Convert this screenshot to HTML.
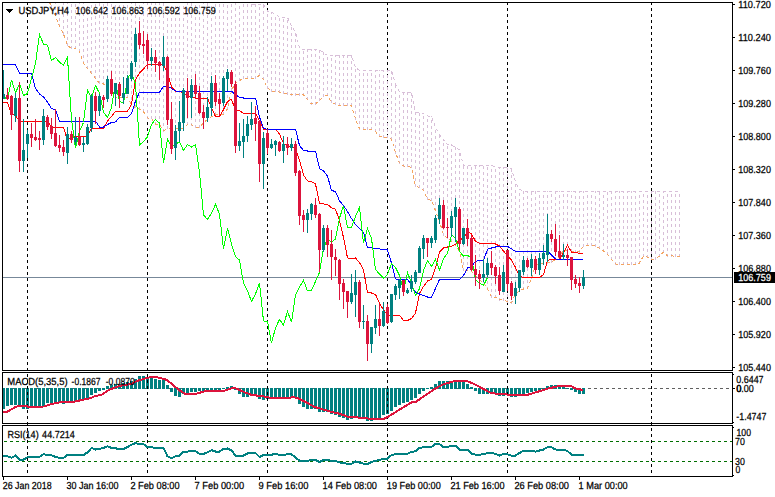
<!DOCTYPE html>
<html><head><meta charset="utf-8"><title>USDJPY,H4</title>
<style>html,body{margin:0;padding:0;background:#fff;overflow:hidden}svg{display:block}</style></head>
<body>
<svg width="775" height="497" viewBox="0 0 775 497" font-family="'Liberation Sans', sans-serif" text-rendering="geometricPrecision">
<rect width="775" height="497" fill="#fff"/>
<defs><clipPath id="cm"><rect x="3" y="3" width="729" height="367"/></clipPath><clipPath id="c2"><rect x="3" y="373" width="729" height="50"/></clipPath><clipPath id="c3"><rect x="3" y="426" width="729" height="50"/></clipPath></defs>
<g shape-rendering="crispEdges">
<line x1="27.5" y1="2" x2="27.5" y2="473" stroke="#000" stroke-width="1" stroke-dasharray="3 3"/>
<line x1="147.5" y1="2" x2="147.5" y2="473" stroke="#000" stroke-width="1" stroke-dasharray="3 3"/>
<line x1="267.5" y1="2" x2="267.5" y2="473" stroke="#000" stroke-width="1" stroke-dasharray="3 3"/>
<line x1="387.5" y1="2" x2="387.5" y2="473" stroke="#000" stroke-width="1" stroke-dasharray="3 3"/>
<line x1="507.5" y1="2" x2="507.5" y2="473" stroke="#000" stroke-width="1" stroke-dasharray="3 3"/>
<line x1="651.5" y1="2" x2="651.5" y2="473" stroke="#000" stroke-width="1" stroke-dasharray="3 3"/>
<g clip-path="url(#cm)">
<line x1="47.5" y1="-3" x2="47.5" y2="-10" stroke="#D8BFD8" stroke-dasharray="3 3"/>
<line x1="51.5" y1="8" x2="51.5" y2="-10" stroke="#D8BFD8" stroke-dasharray="3 3"/>
<line x1="55.5" y1="16" x2="55.5" y2="-10" stroke="#D8BFD8" stroke-dasharray="3 3"/>
<line x1="59.5" y1="27" x2="59.5" y2="-10" stroke="#D8BFD8" stroke-dasharray="3 3"/>
<line x1="63.5" y1="35" x2="63.5" y2="-10" stroke="#D8BFD8" stroke-dasharray="3 3"/>
<line x1="67.5" y1="46" x2="67.5" y2="-10" stroke="#D8BFD8" stroke-dasharray="3 3"/>
<line x1="71.5" y1="49" x2="71.5" y2="-10" stroke="#D8BFD8" stroke-dasharray="3 3"/>
<line x1="75.5" y1="49" x2="75.5" y2="-10" stroke="#D8BFD8" stroke-dasharray="3 3"/>
<line x1="79.5" y1="52" x2="79.5" y2="-10" stroke="#D8BFD8" stroke-dasharray="3 3"/>
<line x1="83.5" y1="64" x2="83.5" y2="-10" stroke="#D8BFD8" stroke-dasharray="3 3"/>
<line x1="87.5" y1="69" x2="87.5" y2="-10" stroke="#D8BFD8" stroke-dasharray="3 3"/>
<line x1="91.5" y1="74" x2="91.5" y2="-10" stroke="#D8BFD8" stroke-dasharray="3 3"/>
<line x1="95.5" y1="79" x2="95.5" y2="-10" stroke="#D8BFD8" stroke-dasharray="3 3"/>
<line x1="99.5" y1="84" x2="99.5" y2="-10" stroke="#D8BFD8" stroke-dasharray="3 3"/>
<line x1="103.5" y1="85" x2="103.5" y2="-10" stroke="#D8BFD8" stroke-dasharray="3 3"/>
<line x1="107.5" y1="90" x2="107.5" y2="-10" stroke="#D8BFD8" stroke-dasharray="3 3"/>
<line x1="111.5" y1="91" x2="111.5" y2="-10" stroke="#D8BFD8" stroke-dasharray="3 3"/>
<line x1="115.5" y1="98" x2="115.5" y2="-10" stroke="#D8BFD8" stroke-dasharray="3 3"/>
<line x1="119.5" y1="98" x2="119.5" y2="-10" stroke="#D8BFD8" stroke-dasharray="3 3"/>
<line x1="123.5" y1="98" x2="123.5" y2="-10" stroke="#D8BFD8" stroke-dasharray="3 3"/>
<line x1="127.5" y1="98" x2="127.5" y2="-10" stroke="#D8BFD8" stroke-dasharray="3 3"/>
<line x1="131.5" y1="106" x2="131.5" y2="-10" stroke="#D8BFD8" stroke-dasharray="3 3"/>
<line x1="135.5" y1="108" x2="135.5" y2="-10" stroke="#D8BFD8" stroke-dasharray="3 3"/>
<line x1="139.5" y1="110" x2="139.5" y2="-10" stroke="#D8BFD8" stroke-dasharray="3 3"/>
<line x1="143.5" y1="112" x2="143.5" y2="-10" stroke="#D8BFD8" stroke-dasharray="3 3"/>
<line x1="147.5" y1="119" x2="147.5" y2="-10" stroke="#D8BFD8" stroke-dasharray="3 3"/>
<line x1="151.5" y1="119" x2="151.5" y2="-10" stroke="#D8BFD8" stroke-dasharray="3 3"/>
<line x1="155.5" y1="125" x2="155.5" y2="-10" stroke="#D8BFD8" stroke-dasharray="3 3"/>
<line x1="159.5" y1="125" x2="159.5" y2="-10" stroke="#D8BFD8" stroke-dasharray="3 3"/>
<line x1="163.5" y1="132" x2="163.5" y2="-10" stroke="#D8BFD8" stroke-dasharray="3 3"/>
<line x1="167.5" y1="129" x2="167.5" y2="-10" stroke="#D8BFD8" stroke-dasharray="3 3"/>
<line x1="171.5" y1="129" x2="171.5" y2="-10" stroke="#D8BFD8" stroke-dasharray="3 3"/>
<line x1="175.5" y1="129" x2="175.5" y2="-10" stroke="#D8BFD8" stroke-dasharray="3 3"/>
<line x1="179.5" y1="129" x2="179.5" y2="-10" stroke="#D8BFD8" stroke-dasharray="3 3"/>
<line x1="183.5" y1="129" x2="183.5" y2="-10" stroke="#D8BFD8" stroke-dasharray="3 3"/>
<line x1="187.5" y1="125" x2="187.5" y2="-10" stroke="#D8BFD8" stroke-dasharray="3 3"/>
<line x1="191.5" y1="126" x2="191.5" y2="-10" stroke="#D8BFD8" stroke-dasharray="3 3"/>
<line x1="195.5" y1="128" x2="195.5" y2="-10" stroke="#D8BFD8" stroke-dasharray="3 3"/>
<line x1="199.5" y1="128" x2="199.5" y2="-10" stroke="#D8BFD8" stroke-dasharray="3 3"/>
<line x1="203.5" y1="124" x2="203.5" y2="-10" stroke="#D8BFD8" stroke-dasharray="3 3"/>
<line x1="207.5" y1="120" x2="207.5" y2="-10" stroke="#D8BFD8" stroke-dasharray="3 3"/>
<line x1="211.5" y1="117" x2="211.5" y2="-10" stroke="#D8BFD8" stroke-dasharray="3 3"/>
<line x1="215.5" y1="115" x2="215.5" y2="-10" stroke="#D8BFD8" stroke-dasharray="3 3"/>
<line x1="219.5" y1="115" x2="219.5" y2="-10" stroke="#D8BFD8" stroke-dasharray="3 3"/>
<line x1="223.5" y1="115" x2="223.5" y2="-10" stroke="#D8BFD8" stroke-dasharray="3 3"/>
<line x1="227.5" y1="110" x2="227.5" y2="-10" stroke="#D8BFD8" stroke-dasharray="3 3"/>
<line x1="231.5" y1="91" x2="231.5" y2="-10" stroke="#D8BFD8" stroke-dasharray="3 3"/>
<line x1="235.5" y1="83" x2="235.5" y2="-10" stroke="#D8BFD8" stroke-dasharray="3 3"/>
<line x1="239.5" y1="81" x2="239.5" y2="-10" stroke="#D8BFD8" stroke-dasharray="3 3"/>
<line x1="243.5" y1="79" x2="243.5" y2="-10" stroke="#D8BFD8" stroke-dasharray="3 3"/>
<line x1="247.5" y1="79" x2="247.5" y2="-10" stroke="#D8BFD8" stroke-dasharray="3 3"/>
<line x1="251.5" y1="79" x2="251.5" y2="4" stroke="#D8BFD8" stroke-dasharray="3 3"/>
<line x1="255.5" y1="79" x2="255.5" y2="4" stroke="#D8BFD8" stroke-dasharray="3 3"/>
<line x1="259.5" y1="76" x2="259.5" y2="4" stroke="#D8BFD8" stroke-dasharray="3 3"/>
<line x1="263.5" y1="80" x2="263.5" y2="4" stroke="#D8BFD8" stroke-dasharray="3 3"/>
<line x1="267.5" y1="89" x2="267.5" y2="11" stroke="#D8BFD8" stroke-dasharray="3 3"/>
<line x1="271.5" y1="92" x2="271.5" y2="12" stroke="#D8BFD8" stroke-dasharray="3 3"/>
<line x1="275.5" y1="92" x2="275.5" y2="14" stroke="#D8BFD8" stroke-dasharray="3 3"/>
<line x1="279.5" y1="93" x2="279.5" y2="17" stroke="#D8BFD8" stroke-dasharray="3 3"/>
<line x1="283.5" y1="94" x2="283.5" y2="17" stroke="#D8BFD8" stroke-dasharray="3 3"/>
<line x1="287.5" y1="95" x2="287.5" y2="17" stroke="#D8BFD8" stroke-dasharray="3 3"/>
<line x1="291.5" y1="96" x2="291.5" y2="26" stroke="#D8BFD8" stroke-dasharray="3 3"/>
<line x1="295.5" y1="96" x2="295.5" y2="31" stroke="#D8BFD8" stroke-dasharray="3 3"/>
<line x1="299.5" y1="96" x2="299.5" y2="48" stroke="#D8BFD8" stroke-dasharray="3 3"/>
<line x1="303.5" y1="96" x2="303.5" y2="49" stroke="#D8BFD8" stroke-dasharray="3 3"/>
<line x1="307.5" y1="100" x2="307.5" y2="49" stroke="#D8BFD8" stroke-dasharray="3 3"/>
<line x1="311.5" y1="105" x2="311.5" y2="49" stroke="#D8BFD8" stroke-dasharray="3 3"/>
<line x1="315.5" y1="105" x2="315.5" y2="49" stroke="#D8BFD8" stroke-dasharray="3 3"/>
<line x1="319.5" y1="101" x2="319.5" y2="49" stroke="#D8BFD8" stroke-dasharray="3 3"/>
<line x1="323.5" y1="97" x2="323.5" y2="52" stroke="#D8BFD8" stroke-dasharray="3 3"/>
<line x1="327.5" y1="96" x2="327.5" y2="55" stroke="#D8BFD8" stroke-dasharray="3 3"/>
<line x1="331.5" y1="103" x2="331.5" y2="55" stroke="#D8BFD8" stroke-dasharray="3 3"/>
<line x1="335.5" y1="105" x2="335.5" y2="55" stroke="#D8BFD8" stroke-dasharray="3 3"/>
<line x1="339.5" y1="106" x2="339.5" y2="55" stroke="#D8BFD8" stroke-dasharray="3 3"/>
<line x1="343.5" y1="106" x2="343.5" y2="55" stroke="#D8BFD8" stroke-dasharray="3 3"/>
<line x1="347.5" y1="106" x2="347.5" y2="55" stroke="#D8BFD8" stroke-dasharray="3 3"/>
<line x1="351.5" y1="106" x2="351.5" y2="55" stroke="#D8BFD8" stroke-dasharray="3 3"/>
<line x1="355.5" y1="120" x2="355.5" y2="67" stroke="#D8BFD8" stroke-dasharray="3 3"/>
<line x1="359.5" y1="130" x2="359.5" y2="70" stroke="#D8BFD8" stroke-dasharray="3 3"/>
<line x1="363.5" y1="130" x2="363.5" y2="70" stroke="#D8BFD8" stroke-dasharray="3 3"/>
<line x1="367.5" y1="130" x2="367.5" y2="70" stroke="#D8BFD8" stroke-dasharray="3 3"/>
<line x1="371.5" y1="130" x2="371.5" y2="70" stroke="#D8BFD8" stroke-dasharray="3 3"/>
<line x1="375.5" y1="132" x2="375.5" y2="70" stroke="#D8BFD8" stroke-dasharray="3 3"/>
<line x1="379.5" y1="137" x2="379.5" y2="70" stroke="#D8BFD8" stroke-dasharray="3 3"/>
<line x1="383.5" y1="138" x2="383.5" y2="70" stroke="#D8BFD8" stroke-dasharray="3 3"/>
<line x1="387.5" y1="138" x2="387.5" y2="70" stroke="#D8BFD8" stroke-dasharray="3 3"/>
<line x1="391.5" y1="140" x2="391.5" y2="70" stroke="#D8BFD8" stroke-dasharray="3 3"/>
<line x1="395.5" y1="154" x2="395.5" y2="84" stroke="#D8BFD8" stroke-dasharray="3 3"/>
<line x1="399.5" y1="164" x2="399.5" y2="91" stroke="#D8BFD8" stroke-dasharray="3 3"/>
<line x1="403.5" y1="167" x2="403.5" y2="92" stroke="#D8BFD8" stroke-dasharray="3 3"/>
<line x1="407.5" y1="167" x2="407.5" y2="92" stroke="#D8BFD8" stroke-dasharray="3 3"/>
<line x1="411.5" y1="168" x2="411.5" y2="92" stroke="#D8BFD8" stroke-dasharray="3 3"/>
<line x1="415.5" y1="187" x2="415.5" y2="112" stroke="#D8BFD8" stroke-dasharray="3 3"/>
<line x1="419.5" y1="188" x2="419.5" y2="112" stroke="#D8BFD8" stroke-dasharray="3 3"/>
<line x1="423.5" y1="191" x2="423.5" y2="113" stroke="#D8BFD8" stroke-dasharray="3 3"/>
<line x1="427.5" y1="200" x2="427.5" y2="116" stroke="#D8BFD8" stroke-dasharray="3 3"/>
<line x1="431.5" y1="201" x2="431.5" y2="116" stroke="#D8BFD8" stroke-dasharray="3 3"/>
<line x1="435.5" y1="211" x2="435.5" y2="127" stroke="#D8BFD8" stroke-dasharray="3 3"/>
<line x1="439.5" y1="222" x2="439.5" y2="134" stroke="#D8BFD8" stroke-dasharray="3 3"/>
<line x1="443.5" y1="236" x2="443.5" y2="139" stroke="#D8BFD8" stroke-dasharray="3 3"/>
<line x1="447.5" y1="239" x2="447.5" y2="144" stroke="#D8BFD8" stroke-dasharray="3 3"/>
<line x1="451.5" y1="242" x2="451.5" y2="144" stroke="#D8BFD8" stroke-dasharray="3 3"/>
<line x1="455.5" y1="246" x2="455.5" y2="147" stroke="#D8BFD8" stroke-dasharray="3 3"/>
<line x1="459.5" y1="252" x2="459.5" y2="149" stroke="#D8BFD8" stroke-dasharray="3 3"/>
<line x1="463.5" y1="271" x2="463.5" y2="165" stroke="#D8BFD8" stroke-dasharray="3 3"/>
<line x1="467.5" y1="271" x2="467.5" y2="165" stroke="#D8BFD8" stroke-dasharray="3 3"/>
<line x1="471.5" y1="272" x2="471.5" y2="165" stroke="#D8BFD8" stroke-dasharray="3 3"/>
<line x1="475.5" y1="277" x2="475.5" y2="165" stroke="#D8BFD8" stroke-dasharray="3 3"/>
<line x1="479.5" y1="281" x2="479.5" y2="165" stroke="#D8BFD8" stroke-dasharray="3 3"/>
<line x1="483.5" y1="283" x2="483.5" y2="165" stroke="#D8BFD8" stroke-dasharray="3 3"/>
<line x1="487.5" y1="290" x2="487.5" y2="165" stroke="#D8BFD8" stroke-dasharray="3 3"/>
<line x1="491.5" y1="298" x2="491.5" y2="165" stroke="#D8BFD8" stroke-dasharray="3 3"/>
<line x1="495.5" y1="298" x2="495.5" y2="166" stroke="#D8BFD8" stroke-dasharray="3 3"/>
<line x1="499.5" y1="301" x2="499.5" y2="167" stroke="#D8BFD8" stroke-dasharray="3 3"/>
<line x1="503.5" y1="301" x2="503.5" y2="167" stroke="#D8BFD8" stroke-dasharray="3 3"/>
<line x1="507.5" y1="303" x2="507.5" y2="167" stroke="#D8BFD8" stroke-dasharray="3 3"/>
<line x1="511.5" y1="304" x2="511.5" y2="168" stroke="#D8BFD8" stroke-dasharray="3 3"/>
<line x1="515.5" y1="295" x2="515.5" y2="182" stroke="#D8BFD8" stroke-dasharray="3 3"/>
<line x1="519.5" y1="292" x2="519.5" y2="189" stroke="#D8BFD8" stroke-dasharray="3 3"/>
<line x1="523.5" y1="290" x2="523.5" y2="191" stroke="#D8BFD8" stroke-dasharray="3 3"/>
<line x1="527.5" y1="289" x2="527.5" y2="191" stroke="#D8BFD8" stroke-dasharray="3 3"/>
<line x1="531.5" y1="279" x2="531.5" y2="191" stroke="#D8BFD8" stroke-dasharray="3 3"/>
<line x1="535.5" y1="266" x2="535.5" y2="191" stroke="#D8BFD8" stroke-dasharray="3 3"/>
<line x1="539.5" y1="264" x2="539.5" y2="191" stroke="#D8BFD8" stroke-dasharray="3 3"/>
<line x1="543.5" y1="264" x2="543.5" y2="191" stroke="#D8BFD8" stroke-dasharray="3 3"/>
<line x1="547.5" y1="264" x2="547.5" y2="191" stroke="#D8BFD8" stroke-dasharray="3 3"/>
<line x1="551.5" y1="263" x2="551.5" y2="191" stroke="#D8BFD8" stroke-dasharray="3 3"/>
<line x1="555.5" y1="260" x2="555.5" y2="191" stroke="#D8BFD8" stroke-dasharray="3 3"/>
<line x1="559.5" y1="258" x2="559.5" y2="191" stroke="#D8BFD8" stroke-dasharray="3 3"/>
<line x1="563.5" y1="251" x2="563.5" y2="191" stroke="#D8BFD8" stroke-dasharray="3 3"/>
<line x1="567.5" y1="251" x2="567.5" y2="191" stroke="#D8BFD8" stroke-dasharray="3 3"/>
<line x1="571.5" y1="252" x2="571.5" y2="191" stroke="#D8BFD8" stroke-dasharray="3 3"/>
<line x1="575.5" y1="253" x2="575.5" y2="191" stroke="#D8BFD8" stroke-dasharray="3 3"/>
<line x1="579.5" y1="253" x2="579.5" y2="191" stroke="#D8BFD8" stroke-dasharray="3 3"/>
<line x1="583.5" y1="247" x2="583.5" y2="191" stroke="#D8BFD8" stroke-dasharray="3 3"/>
<line x1="587.5" y1="246" x2="587.5" y2="191" stroke="#D8BFD8" stroke-dasharray="3 3"/>
<line x1="591.5" y1="246" x2="591.5" y2="191" stroke="#D8BFD8" stroke-dasharray="3 3"/>
<line x1="595.5" y1="247" x2="595.5" y2="191" stroke="#D8BFD8" stroke-dasharray="3 3"/>
<line x1="599.5" y1="249" x2="599.5" y2="191" stroke="#D8BFD8" stroke-dasharray="3 3"/>
<line x1="603.5" y1="252" x2="603.5" y2="191" stroke="#D8BFD8" stroke-dasharray="3 3"/>
<line x1="607.5" y1="255" x2="607.5" y2="191" stroke="#D8BFD8" stroke-dasharray="3 3"/>
<line x1="611.5" y1="260" x2="611.5" y2="191" stroke="#D8BFD8" stroke-dasharray="3 3"/>
<line x1="615.5" y1="265" x2="615.5" y2="191" stroke="#D8BFD8" stroke-dasharray="3 3"/>
<line x1="619.5" y1="265" x2="619.5" y2="191" stroke="#D8BFD8" stroke-dasharray="3 3"/>
<line x1="623.5" y1="265" x2="623.5" y2="191" stroke="#D8BFD8" stroke-dasharray="3 3"/>
<line x1="627.5" y1="265" x2="627.5" y2="191" stroke="#D8BFD8" stroke-dasharray="3 3"/>
<line x1="631.5" y1="265" x2="631.5" y2="191" stroke="#D8BFD8" stroke-dasharray="3 3"/>
<line x1="635.5" y1="265" x2="635.5" y2="191" stroke="#D8BFD8" stroke-dasharray="3 3"/>
<line x1="639.5" y1="264" x2="639.5" y2="191" stroke="#D8BFD8" stroke-dasharray="3 3"/>
<line x1="643.5" y1="257" x2="643.5" y2="191" stroke="#D8BFD8" stroke-dasharray="3 3"/>
<line x1="647.5" y1="258" x2="647.5" y2="191" stroke="#D8BFD8" stroke-dasharray="3 3"/>
<line x1="651.5" y1="260" x2="651.5" y2="191" stroke="#D8BFD8" stroke-dasharray="3 3"/>
<line x1="655.5" y1="260" x2="655.5" y2="191" stroke="#D8BFD8" stroke-dasharray="3 3"/>
<line x1="659.5" y1="257" x2="659.5" y2="191" stroke="#D8BFD8" stroke-dasharray="3 3"/>
<line x1="663.5" y1="253" x2="663.5" y2="191" stroke="#D8BFD8" stroke-dasharray="3 3"/>
<line x1="667.5" y1="257" x2="667.5" y2="191" stroke="#D8BFD8" stroke-dasharray="3 3"/>
<line x1="671.5" y1="257" x2="671.5" y2="191" stroke="#D8BFD8" stroke-dasharray="3 3"/>
<line x1="675.5" y1="257" x2="675.5" y2="191" stroke="#D8BFD8" stroke-dasharray="3 3"/>
<line x1="679.5" y1="257" x2="679.5" y2="191" stroke="#D8BFD8" stroke-dasharray="3 3"/>
<polyline fill="none" stroke="#D8BFD8" stroke-width="1" stroke-dasharray="3 3" points="251.5,4.5 255.5,4.5 259.5,4.5 263.5,4.5 267.5,11 271.5,12.3 275.5,14.2 279.5,17.4 283.5,17.4 287.5,17.4 291.5,26.5 295.5,31.6 299.5,48.4 303.5,49.7 307.5,49.7 311.5,49.7 315.5,49.7 319.5,49.7 323.5,52.9 327.5,55.5 331.5,55.5 335.5,55.5 339.5,55.5 343.5,55.5 347.5,55.5 351.5,55.5 355.5,67.5 359.5,70.6 363.5,70.6 367.5,70.6 371.5,70.6 375.5,70.6 379.5,70.6 383.5,70.6 387.5,70.6 391.5,70.6 395.5,84.5 399.5,91.6 403.5,92.4 407.5,92.4 411.5,92.4 415.5,112.1 419.5,112.1 423.5,113.5 427.5,116 431.5,116.3 435.5,127.6 439.5,134.7 443.5,139.8 447.5,144.3 451.5,144.7 455.5,147.9 459.5,149.5 463.5,165.6 467.5,165.6 471.5,165.6 475.5,165.6 479.5,165.6 483.5,165.6 487.5,165.6 491.5,165.6 495.5,166.5 499.5,167.5 503.5,167.5 507.5,167.5 511.5,168.5 515.5,182 519.5,189.2 523.5,191.4 527.5,191.4 531.5,191.4 535.5,191.4 539.5,191.4 543.5,191.4 547.5,191.4 551.5,191.4 555.5,191.4 559.5,191.4 563.5,191.4 567.5,191.4 571.5,191.4 575.5,191.4 579.5,191.4 583.5,191.4 587.5,191.4 591.5,191.4 595.5,191.4 599.5,191.4 603.5,191.4 607.5,191.4 611.5,191.4 615.5,191.4 619.5,191.4 623.5,191.4 627.5,191.4 631.5,191.4 635.5,191.4 639.5,191.4 643.5,191.4 647.5,191.4 651.5,191.4 655.5,191.4 659.5,191.4 663.5,191.4 667.5,191.4 671.5,191.4 675.5,191.4 679.5,191.4"/>
<polyline fill="none" stroke="#F4A460" stroke-width="1" stroke-dasharray="3 3" points="47.5,-3.4 51.5,7.5 55.5,15.5 59.5,26.5 63.5,34 67.5,45.5 71.5,48.4 75.5,48.4 79.5,51.5 83.5,63 87.5,68.5 91.5,73.5 95.5,78.5 99.5,83.4 103.5,83.8 107.5,89 111.5,90.2 115.5,97 119.5,97.2 123.5,97.2 127.5,97.2 131.5,104.9 135.5,107.7 139.5,109.2 143.5,111.7 147.5,118 151.5,118.6 155.5,124.2 159.5,124.2 163.5,130.8 167.5,128.7 171.5,128.7 175.5,128.7 179.5,128.7 183.5,128.7 187.5,124.7 191.5,124.8 195.5,127.7 199.5,127.7 203.5,122.8 207.5,119.5 211.5,116.6 215.5,114.3 219.5,114.3 223.5,114.3 227.5,109 231.5,90.5 235.5,82.7 239.5,80.7 243.5,78.3 247.5,78.3 251.5,78.3 255.5,78.3 259.5,75.3 263.5,79.6 267.5,87.8 271.5,91 275.5,91.4 279.5,92.2 283.5,93.3 287.5,94.2 291.5,94.8 295.5,94.8 299.5,94.8 303.5,94.8 307.5,99.7 311.5,103.9 315.5,104 319.5,100.4 323.5,96.4 327.5,95.3 331.5,102.4 335.5,104 339.5,105.7 343.5,105.7 347.5,105.7 351.5,105.7 355.5,118.9 359.5,128.8 363.5,129.2 367.5,129.2 371.5,129.2 375.5,131.6 379.5,136.3 383.5,137.6 387.5,137.6 391.5,139.1 395.5,152.8 399.5,162.8 403.5,166 407.5,166.2 411.5,167.5 415.5,186 419.5,187.5 423.5,190.2 427.5,199.2 431.5,200.3 435.5,210.7 439.5,221.5 443.5,234.8 447.5,238.3 451.5,241.2 455.5,245.7 459.5,251.2 463.5,270 467.5,270.5 471.5,271.5 475.5,276 479.5,279.8 483.5,282.5 487.5,289.2 491.5,297.2 495.5,297.4 499.5,299.9 503.5,299.9 507.5,301.8 511.5,302.8 515.5,293.8 519.5,291 523.5,289 527.5,288.1 531.5,278.2 535.5,265.7 539.5,263.7 543.5,263.2 547.5,262.9 551.5,261.9 555.5,259.7 559.5,256.8 563.5,249.8 567.5,250.5 571.5,251.2 575.5,251.9 579.5,251.8 583.5,246.2 587.5,245.6 591.5,245.5 595.5,246 599.5,248.5 603.5,250.9 607.5,254.4 611.5,259.4 615.5,264 619.5,264.4 623.5,264.4 627.5,264.4 631.5,264.4 635.5,264.4 639.5,263 643.5,255.8 647.5,257.2 651.5,259.2 655.5,259.4 659.5,255.9 663.5,252.2 667.5,255.8 671.5,255.8 675.5,256.4 679.5,256.4"/>
<rect x="3" y="277" width="729" height="1" fill="#778899"/>
<polyline fill="none" stroke="#FF0000" stroke-width="1"  points="3,102.3 3.5,102.3 7.5,103 11.5,113.5 15.5,115.8 19.5,121 23.5,121.3 27.5,121.3 31.5,121.3 35.5,121.3 39.5,121.3 43.5,121.3 47.5,121.3 51.5,127.4 55.5,127.4 59.5,127.4 63.5,127.4 67.5,140.5 71.5,136.3 75.5,136.3 79.5,136.3 83.5,136.3 87.5,136.3 91.5,128.4 95.5,128.5 99.5,128.4 103.5,128.4 107.5,121 111.5,116.5 115.5,111.2 119.5,111.2 123.5,111.2 127.5,111.2 131.5,104.5 135.5,80 139.5,73 143.5,69 147.5,64.4 151.5,64.4 155.5,64.4 159.5,64.4 163.5,64.4 167.5,73 171.5,87 175.5,91 179.5,91.6 183.5,93 187.5,95.3 191.5,97 195.5,98.2 199.5,98.2 203.5,98.2 207.5,98.2 211.5,108 215.5,116.5 219.5,116.8 223.5,109.5 227.5,101.5 231.5,99.4 235.5,110.3 239.5,110.6 243.5,113.3 247.5,113.3 251.5,113.3 255.5,113.3 259.5,120.8 263.5,129.2 267.5,129.2 271.5,129.2 275.5,129.2 279.5,134 283.5,143.5 287.5,146 291.5,146 295.5,149 299.5,160 303.5,175 307.5,181 311.5,181.5 315.5,184 319.5,203.5 323.5,204 327.5,204.4 331.5,207.9 335.5,209.2 339.5,220.5 343.5,237.5 347.5,258 351.5,258.2 355.5,258 359.5,262.5 363.5,270 367.5,292.5 371.5,293 375.5,294.5 379.5,303 383.5,310 387.5,315 391.5,315.5 395.5,315.5 399.5,315.5 403.5,320.3 407.5,320.5 411.5,318.5 415.5,313 419.5,293.5 423.5,286.5 427.5,281 431.5,279.2 435.5,268 439.5,252 443.5,248 447.5,247 451.5,246.3 455.5,244.5 459.5,240 463.5,238 467.5,231.5 471.5,234 475.5,241.3 479.5,243.2 483.5,243.2 487.5,243.2 491.5,243.2 495.5,244 499.5,246 503.5,251 507.5,255.5 511.5,260 515.5,267.5 519.5,276.5 523.5,277.3 527.5,277.3 531.5,277.3 535.5,277.3 539.5,277.3 543.5,274.5 547.5,260.5 551.5,259.4 555.5,259.4 559.5,259.4 563.5,252.5 567.5,245 571.5,252.2 575.5,252.2 579.5,253.3 583,253.3"/>
<polyline fill="none" stroke="#0000FF" stroke-width="1"  points="3,64.6 3.5,64.6 7.5,64.6 11.5,64.6 15.5,64.6 19.5,73 23.5,73 27.5,73 31.5,73 35.5,88.5 39.5,94 43.5,97 47.5,102 51.5,108.5 55.5,109.7 59.5,121 63.5,121 67.5,121 71.5,121 75.5,121 79.5,121 83.5,121 87.5,121 91.5,121 95.5,121 99.5,127 103.5,127 107.5,124.5 111.5,122.5 115.5,122 119.5,117.5 123.5,117.5 127.5,117.5 131.5,113.5 135.5,101 139.5,92.3 143.5,92.3 147.5,92.3 151.5,92.3 155.5,92.3 159.5,92.3 163.5,86.2 167.5,86.2 171.5,88.5 175.5,91 179.5,91.3 183.5,91.3 187.5,91.3 191.5,91.3 195.5,91.3 199.5,91.3 203.5,91.3 207.5,91.3 211.5,91.3 215.5,91.3 219.5,91.3 223.5,91.3 227.5,91.3 231.5,91.3 235.5,94.5 239.5,97.5 243.5,98 247.5,98 251.5,98 255.5,98 259.5,117 263.5,128.5 267.5,129.2 271.5,129.2 275.5,129.2 279.5,129.2 283.5,129.2 287.5,129.2 291.5,129.2 295.5,129.2 299.5,145.5 303.5,150.5 307.5,151 311.5,151 315.5,151 319.5,168.5 323.5,171 327.5,176 331.5,190.5 335.5,191.5 339.5,200.8 343.5,205.5 347.5,211.5 351.5,218.5 355.5,224.5 359.5,228.8 363.5,232.5 367.5,247.5 371.5,248 375.5,248.5 379.5,249 383.5,249.5 387.5,250 391.5,263 395.5,279 399.5,279.4 403.5,279.4 407.5,279.4 411.5,285 415.5,292.5 419.5,294 423.5,295.5 427.5,297 431.5,297 435.5,288.5 439.5,279.4 443.5,279.4 447.5,279.4 451.5,279.4 455.5,279.4 459.5,279.4 463.5,275.5 467.5,268 471.5,267 475.5,261.2 479.5,260.6 483.5,260.4 487.5,249.3 491.5,248 495.5,247 499.5,246 503.5,246 507.5,246.3 511.5,248.9 515.5,251.4 519.5,251.5 523.5,251.5 527.5,251.5 531.5,251.5 535.5,251.5 539.5,251.5 543.5,251.5 547.5,251.2 551.5,255 555.5,259 559.5,259.4 563.5,259.4 567.5,259.4 571.5,259.4 575.5,259.4 579.5,259.4 583,259.4"/>
<polyline fill="none" stroke="#00FF00" stroke-width="1"  points="3.5,96.5 7.5,99.5 11.5,79.7 15.5,93 19.5,83.7 23.5,95.6 27.5,93.4 31.5,78.1 35.5,63.5 39.5,34.4 43.5,44.1 47.5,45.1 51.5,60.4 55.5,57.5 59.5,62.2 63.5,65.1 67.5,57.5 71.5,119.5 75.5,148.2 79.5,131.5 83.5,122.5 87.5,90.5 91.5,98 95.5,85.6 99.5,93.3 103.5,112.4 107.5,117.5 111.5,107.5 115.5,83.5 119.5,101 123.5,103.4 127.5,78.5 131.5,72.4 135.5,84 139.5,145 143.5,141.5 147.5,136.9 151.5,124.6 155.5,119.4 159.5,123.1 163.5,163.2 167.5,138.7 171.5,147.1 175.5,144.5 179.5,141.7 183.5,150.6 187.5,144.5 191.5,147.1 195.5,144.5 199.5,172.2 203.5,215.1 207.5,219.3 211.5,213.5 215.5,204.3 219.5,214.1 223.5,249.1 227.5,228.4 231.5,244.2 235.5,256.8 239.5,260 243.5,283.2 247.5,291 251.5,301.4 255.5,293.9 259.5,282.7 263.5,321 267.5,321.4 271.5,343.3 275.5,327.8 279.5,319.5 283.5,325.1 287.5,311.5 291.5,322.3 295.5,295 299.5,287 303.5,280.4 307.5,291 311.5,290.5 315.5,281.5 319.5,272.5 323.5,248.5 327.5,238.5 331.5,242.4 335.5,238.9 339.5,218.2 343.5,205.7 347.5,228 351.5,227.5 355.5,216.3 359.5,207.3 363.5,243 367.5,228.5 371.5,238.5 375.5,269.5 379.5,274.2 383.5,278.2 387.5,274.5 391.5,263.5 395.5,267.5 399.5,275.5 403.5,290.3 407.5,272.5 411.5,283.2 415.5,295.5 419.5,288.7 423.5,270.7 427.5,260.5 431.5,266.5 435.5,259.5 439.5,270 443.5,258.4 447.5,253.5 451.5,234.5 455.5,238.3 459.5,251.6 463.5,256.1 467.5,255.5 471.5,257.4 475.5,279.3 479.5,283.5 483.5,285.3 487.5,277.7"/>
<rect x="3" y="70" width="1" height="29" fill="#008080"/>
<rect x="2" y="94" width="3" height="5" fill="#008080"/>
<rect x="7" y="88" width="1" height="12" fill="#DC143C"/>
<rect x="6" y="95" width="3" height="4" fill="#DC143C"/>
<rect x="11" y="95" width="1" height="35" fill="#DC143C"/>
<rect x="10" y="96" width="3" height="19" fill="#DC143C"/>
<rect x="15" y="93" width="1" height="29" fill="#008080"/>
<rect x="14" y="98" width="3" height="18" fill="#008080"/>
<rect x="19" y="82" width="1" height="90" fill="#DC143C"/>
<rect x="18" y="98" width="3" height="63" fill="#DC143C"/>
<rect x="23" y="119" width="1" height="53" fill="#008080"/>
<rect x="22" y="150" width="3" height="11" fill="#008080"/>
<rect x="27" y="130" width="1" height="28" fill="#008080"/>
<rect x="26" y="134" width="3" height="10" fill="#008080"/>
<rect x="31" y="123" width="1" height="24" fill="#DC143C"/>
<rect x="30" y="134" width="3" height="4" fill="#DC143C"/>
<rect x="35" y="119" width="1" height="22" fill="#DC143C"/>
<rect x="34" y="137" width="3" height="3" fill="#DC143C"/>
<rect x="39" y="131" width="1" height="19" fill="#DC143C"/>
<rect x="38" y="138" width="3" height="2" fill="#DC143C"/>
<rect x="43" y="109" width="1" height="36" fill="#008080"/>
<rect x="42" y="116" width="3" height="24" fill="#008080"/>
<rect x="47" y="115" width="1" height="15" fill="#DC143C"/>
<rect x="46" y="117" width="3" height="10" fill="#DC143C"/>
<rect x="51" y="118" width="1" height="21" fill="#DC143C"/>
<rect x="50" y="126" width="3" height="8" fill="#DC143C"/>
<rect x="55" y="109" width="1" height="38" fill="#DC143C"/>
<rect x="54" y="133" width="3" height="13" fill="#DC143C"/>
<rect x="59" y="135" width="1" height="17" fill="#DC143C"/>
<rect x="58" y="145" width="3" height="3" fill="#DC143C"/>
<rect x="63" y="140" width="1" height="16" fill="#DC143C"/>
<rect x="62" y="147" width="3" height="5" fill="#DC143C"/>
<rect x="67" y="127" width="1" height="37" fill="#008080"/>
<rect x="66" y="134" width="3" height="19" fill="#008080"/>
<rect x="71" y="131" width="1" height="12" fill="#DC143C"/>
<rect x="70" y="134" width="3" height="6" fill="#DC143C"/>
<rect x="75" y="117" width="1" height="28" fill="#008080"/>
<rect x="74" y="137" width="3" height="5" fill="#008080"/>
<rect x="79" y="117" width="1" height="29" fill="#DC143C"/>
<rect x="78" y="136" width="3" height="9" fill="#DC143C"/>
<rect x="83" y="137" width="1" height="15" fill="#008080"/>
<rect x="82" y="143" width="3" height="2" fill="#008080"/>
<rect x="87" y="124" width="1" height="21" fill="#008080"/>
<rect x="86" y="127" width="3" height="17" fill="#008080"/>
<rect x="91" y="94" width="1" height="38" fill="#008080"/>
<rect x="90" y="96" width="3" height="32" fill="#008080"/>
<rect x="95" y="92" width="1" height="32" fill="#DC143C"/>
<rect x="94" y="96" width="3" height="15" fill="#DC143C"/>
<rect x="99" y="94" width="1" height="22" fill="#008080"/>
<rect x="98" y="96" width="3" height="15" fill="#008080"/>
<rect x="103" y="95" width="1" height="13" fill="#DC143C"/>
<rect x="102" y="97" width="3" height="3" fill="#DC143C"/>
<rect x="107" y="76" width="1" height="26" fill="#008080"/>
<rect x="106" y="79" width="3" height="20" fill="#008080"/>
<rect x="111" y="71" width="1" height="25" fill="#DC143C"/>
<rect x="110" y="79" width="3" height="15" fill="#DC143C"/>
<rect x="115" y="83" width="1" height="23" fill="#008080"/>
<rect x="114" y="83" width="3" height="11" fill="#008080"/>
<rect x="119" y="82" width="1" height="26" fill="#DC143C"/>
<rect x="118" y="84" width="3" height="12" fill="#DC143C"/>
<rect x="123" y="77" width="1" height="27" fill="#008080"/>
<rect x="122" y="93" width="3" height="5" fill="#008080"/>
<rect x="127" y="75" width="1" height="19" fill="#008080"/>
<rect x="126" y="78" width="3" height="16" fill="#008080"/>
<rect x="131" y="61" width="1" height="20" fill="#008080"/>
<rect x="130" y="63" width="3" height="16" fill="#008080"/>
<rect x="135" y="28" width="1" height="39" fill="#008080"/>
<rect x="134" y="34" width="3" height="28" fill="#008080"/>
<rect x="139" y="21" width="1" height="28" fill="#DC143C"/>
<rect x="138" y="33" width="3" height="12" fill="#DC143C"/>
<rect x="143" y="31" width="1" height="23" fill="#DC143C"/>
<rect x="142" y="44" width="3" height="2" fill="#DC143C"/>
<rect x="147" y="34" width="1" height="35" fill="#DC143C"/>
<rect x="146" y="40" width="3" height="21" fill="#DC143C"/>
<rect x="151" y="48" width="1" height="18" fill="#008080"/>
<rect x="150" y="57" width="3" height="4" fill="#008080"/>
<rect x="155" y="50" width="1" height="22" fill="#DC143C"/>
<rect x="154" y="57" width="3" height="6" fill="#DC143C"/>
<rect x="159" y="61" width="1" height="19" fill="#DC143C"/>
<rect x="158" y="62" width="3" height="4" fill="#DC143C"/>
<rect x="163" y="36" width="1" height="35" fill="#008080"/>
<rect x="162" y="57" width="3" height="9" fill="#008080"/>
<rect x="167" y="56" width="1" height="69" fill="#DC143C"/>
<rect x="166" y="57" width="3" height="63" fill="#DC143C"/>
<rect x="171" y="102" width="1" height="52" fill="#DC143C"/>
<rect x="170" y="119" width="3" height="30" fill="#DC143C"/>
<rect x="175" y="125" width="1" height="35" fill="#008080"/>
<rect x="174" y="131" width="3" height="17" fill="#008080"/>
<rect x="179" y="101" width="1" height="41" fill="#008080"/>
<rect x="178" y="122" width="3" height="9" fill="#008080"/>
<rect x="183" y="88" width="1" height="43" fill="#008080"/>
<rect x="182" y="90" width="3" height="33" fill="#008080"/>
<rect x="187" y="78" width="1" height="40" fill="#DC143C"/>
<rect x="186" y="91" width="3" height="7" fill="#DC143C"/>
<rect x="191" y="79" width="1" height="39" fill="#008080"/>
<rect x="190" y="85" width="3" height="13" fill="#008080"/>
<rect x="195" y="74" width="1" height="25" fill="#DC143C"/>
<rect x="194" y="85" width="3" height="9" fill="#DC143C"/>
<rect x="199" y="86" width="1" height="28" fill="#DC143C"/>
<rect x="198" y="93" width="3" height="20" fill="#DC143C"/>
<rect x="203" y="105" width="1" height="24" fill="#DC143C"/>
<rect x="202" y="112" width="3" height="6" fill="#DC143C"/>
<rect x="207" y="97" width="1" height="25" fill="#008080"/>
<rect x="206" y="107" width="3" height="11" fill="#008080"/>
<rect x="211" y="76" width="1" height="40" fill="#008080"/>
<rect x="210" y="83" width="3" height="25" fill="#008080"/>
<rect x="215" y="75" width="1" height="31" fill="#DC143C"/>
<rect x="214" y="83" width="3" height="19" fill="#DC143C"/>
<rect x="219" y="93" width="1" height="23" fill="#DC143C"/>
<rect x="218" y="99" width="3" height="5" fill="#DC143C"/>
<rect x="223" y="76" width="1" height="30" fill="#008080"/>
<rect x="222" y="78" width="3" height="25" fill="#008080"/>
<rect x="227" y="69" width="1" height="22" fill="#008080"/>
<rect x="226" y="72" width="3" height="7" fill="#008080"/>
<rect x="231" y="70" width="1" height="17" fill="#DC143C"/>
<rect x="230" y="72" width="3" height="12" fill="#DC143C"/>
<rect x="235" y="81" width="1" height="72" fill="#DC143C"/>
<rect x="234" y="84" width="3" height="62" fill="#DC143C"/>
<rect x="239" y="123" width="1" height="28" fill="#008080"/>
<rect x="238" y="141" width="3" height="5" fill="#008080"/>
<rect x="243" y="119" width="1" height="39" fill="#008080"/>
<rect x="242" y="136" width="3" height="6" fill="#008080"/>
<rect x="247" y="116" width="1" height="26" fill="#008080"/>
<rect x="246" y="124" width="3" height="12" fill="#008080"/>
<rect x="251" y="102" width="1" height="28" fill="#008080"/>
<rect x="250" y="119" width="3" height="6" fill="#008080"/>
<rect x="255" y="106" width="1" height="35" fill="#DC143C"/>
<rect x="254" y="118" width="3" height="6" fill="#DC143C"/>
<rect x="259" y="120" width="1" height="62" fill="#DC143C"/>
<rect x="258" y="121" width="3" height="43" fill="#DC143C"/>
<rect x="263" y="132" width="1" height="57" fill="#008080"/>
<rect x="262" y="138" width="3" height="26" fill="#008080"/>
<rect x="267" y="129" width="1" height="25" fill="#DC143C"/>
<rect x="266" y="133" width="3" height="15" fill="#DC143C"/>
<rect x="271" y="139" width="1" height="10" fill="#008080"/>
<rect x="270" y="144" width="3" height="4" fill="#008080"/>
<rect x="275" y="140" width="1" height="16" fill="#008080"/>
<rect x="274" y="141" width="3" height="4" fill="#008080"/>
<rect x="279" y="141" width="1" height="11" fill="#DC143C"/>
<rect x="278" y="142" width="3" height="9" fill="#DC143C"/>
<rect x="283" y="136" width="1" height="27" fill="#008080"/>
<rect x="282" y="144" width="3" height="7" fill="#008080"/>
<rect x="287" y="137" width="1" height="18" fill="#DC143C"/>
<rect x="286" y="144" width="3" height="4" fill="#DC143C"/>
<rect x="291" y="138" width="1" height="13" fill="#008080"/>
<rect x="290" y="144" width="3" height="4" fill="#008080"/>
<rect x="295" y="141" width="1" height="35" fill="#DC143C"/>
<rect x="294" y="144" width="3" height="29" fill="#DC143C"/>
<rect x="299" y="170" width="1" height="55" fill="#DC143C"/>
<rect x="298" y="171" width="3" height="45" fill="#DC143C"/>
<rect x="303" y="210" width="1" height="22" fill="#DC143C"/>
<rect x="302" y="215" width="3" height="5" fill="#DC143C"/>
<rect x="307" y="209" width="1" height="24" fill="#008080"/>
<rect x="306" y="213" width="3" height="7" fill="#008080"/>
<rect x="311" y="203" width="1" height="17" fill="#008080"/>
<rect x="310" y="204" width="3" height="10" fill="#008080"/>
<rect x="315" y="198" width="1" height="20" fill="#DC143C"/>
<rect x="314" y="205" width="3" height="10" fill="#DC143C"/>
<rect x="319" y="213" width="1" height="59" fill="#DC143C"/>
<rect x="318" y="214" width="3" height="36" fill="#DC143C"/>
<rect x="323" y="225" width="1" height="27" fill="#008080"/>
<rect x="322" y="228" width="3" height="22" fill="#008080"/>
<rect x="327" y="225" width="1" height="32" fill="#DC143C"/>
<rect x="326" y="228" width="3" height="17" fill="#DC143C"/>
<rect x="331" y="230" width="1" height="50" fill="#DC143C"/>
<rect x="330" y="244" width="3" height="13" fill="#DC143C"/>
<rect x="335" y="249" width="1" height="27" fill="#DC143C"/>
<rect x="334" y="257" width="3" height="3" fill="#DC143C"/>
<rect x="339" y="259" width="1" height="41" fill="#DC143C"/>
<rect x="338" y="260" width="3" height="24" fill="#DC143C"/>
<rect x="343" y="279" width="1" height="30" fill="#DC143C"/>
<rect x="342" y="283" width="3" height="9" fill="#DC143C"/>
<rect x="347" y="291" width="1" height="27" fill="#DC143C"/>
<rect x="346" y="291" width="3" height="11" fill="#DC143C"/>
<rect x="351" y="274" width="1" height="30" fill="#008080"/>
<rect x="350" y="293" width="3" height="9" fill="#008080"/>
<rect x="355" y="270" width="1" height="47" fill="#008080"/>
<rect x="354" y="282" width="3" height="13" fill="#008080"/>
<rect x="359" y="280" width="1" height="48" fill="#DC143C"/>
<rect x="358" y="282" width="3" height="40" fill="#DC143C"/>
<rect x="363" y="305" width="1" height="24" fill="#008080"/>
<rect x="362" y="321" width="3" height="1" fill="#008080"/>
<rect x="367" y="315" width="1" height="46" fill="#DC143C"/>
<rect x="366" y="321" width="3" height="23" fill="#DC143C"/>
<rect x="371" y="327" width="1" height="26" fill="#008080"/>
<rect x="370" y="327" width="3" height="17" fill="#008080"/>
<rect x="375" y="305" width="1" height="29" fill="#008080"/>
<rect x="374" y="319" width="3" height="9" fill="#008080"/>
<rect x="379" y="304" width="1" height="32" fill="#DC143C"/>
<rect x="378" y="319" width="3" height="7" fill="#DC143C"/>
<rect x="383" y="302" width="1" height="25" fill="#008080"/>
<rect x="382" y="311" width="3" height="15" fill="#008080"/>
<rect x="387" y="304" width="1" height="20" fill="#DC143C"/>
<rect x="386" y="307" width="3" height="16" fill="#DC143C"/>
<rect x="391" y="294" width="1" height="29" fill="#008080"/>
<rect x="390" y="294" width="3" height="28" fill="#008080"/>
<rect x="395" y="284" width="1" height="16" fill="#008080"/>
<rect x="394" y="286" width="3" height="9" fill="#008080"/>
<rect x="399" y="279" width="1" height="20" fill="#008080"/>
<rect x="398" y="280" width="3" height="8" fill="#008080"/>
<rect x="403" y="280" width="1" height="16" fill="#DC143C"/>
<rect x="402" y="280" width="3" height="12" fill="#DC143C"/>
<rect x="407" y="288" width="1" height="6" fill="#008080"/>
<rect x="406" y="290" width="3" height="3" fill="#008080"/>
<rect x="411" y="275" width="1" height="17" fill="#008080"/>
<rect x="410" y="281" width="3" height="8" fill="#008080"/>
<rect x="415" y="270" width="1" height="14" fill="#008080"/>
<rect x="414" y="272" width="3" height="10" fill="#008080"/>
<rect x="419" y="246" width="1" height="27" fill="#008080"/>
<rect x="418" y="248" width="3" height="25" fill="#008080"/>
<rect x="423" y="235" width="1" height="24" fill="#008080"/>
<rect x="422" y="238" width="3" height="11" fill="#008080"/>
<rect x="427" y="238" width="1" height="19" fill="#DC143C"/>
<rect x="426" y="238" width="3" height="5" fill="#DC143C"/>
<rect x="431" y="236" width="1" height="12" fill="#008080"/>
<rect x="430" y="238" width="3" height="5" fill="#008080"/>
<rect x="435" y="215" width="1" height="28" fill="#008080"/>
<rect x="434" y="218" width="3" height="22" fill="#008080"/>
<rect x="439" y="198" width="1" height="26" fill="#008080"/>
<rect x="438" y="205" width="3" height="14" fill="#008080"/>
<rect x="443" y="200" width="1" height="29" fill="#DC143C"/>
<rect x="442" y="205" width="3" height="23" fill="#DC143C"/>
<rect x="447" y="218" width="1" height="20" fill="#DC143C"/>
<rect x="446" y="227" width="3" height="1" fill="#DC143C"/>
<rect x="451" y="211" width="1" height="26" fill="#008080"/>
<rect x="450" y="216" width="3" height="12" fill="#008080"/>
<rect x="455" y="198" width="1" height="44" fill="#008080"/>
<rect x="454" y="207" width="3" height="10" fill="#008080"/>
<rect x="459" y="207" width="1" height="43" fill="#DC143C"/>
<rect x="458" y="209" width="3" height="35" fill="#DC143C"/>
<rect x="463" y="228" width="1" height="17" fill="#008080"/>
<rect x="462" y="228" width="3" height="16" fill="#008080"/>
<rect x="467" y="219" width="1" height="27" fill="#DC143C"/>
<rect x="466" y="228" width="3" height="11" fill="#DC143C"/>
<rect x="471" y="235" width="1" height="36" fill="#DC143C"/>
<rect x="470" y="238" width="3" height="32" fill="#DC143C"/>
<rect x="475" y="255" width="1" height="31" fill="#DC143C"/>
<rect x="474" y="269" width="3" height="6" fill="#DC143C"/>
<rect x="479" y="270" width="1" height="19" fill="#DC143C"/>
<rect x="478" y="274" width="3" height="5" fill="#DC143C"/>
<rect x="483" y="259" width="1" height="23" fill="#008080"/>
<rect x="482" y="274" width="3" height="4" fill="#008080"/>
<rect x="487" y="258" width="1" height="19" fill="#008080"/>
<rect x="486" y="263" width="3" height="12" fill="#008080"/>
<rect x="491" y="251" width="1" height="24" fill="#DC143C"/>
<rect x="490" y="263" width="3" height="5" fill="#DC143C"/>
<rect x="495" y="265" width="1" height="19" fill="#DC143C"/>
<rect x="494" y="267" width="3" height="9" fill="#DC143C"/>
<rect x="499" y="267" width="1" height="28" fill="#DC143C"/>
<rect x="498" y="275" width="3" height="16" fill="#DC143C"/>
<rect x="503" y="265" width="1" height="27" fill="#008080"/>
<rect x="502" y="272" width="3" height="20" fill="#008080"/>
<rect x="507" y="250" width="1" height="41" fill="#DC143C"/>
<rect x="506" y="250" width="3" height="34" fill="#DC143C"/>
<rect x="511" y="281" width="1" height="19" fill="#DC143C"/>
<rect x="510" y="283" width="3" height="13" fill="#DC143C"/>
<rect x="515" y="282" width="1" height="22" fill="#008080"/>
<rect x="514" y="288" width="3" height="8" fill="#008080"/>
<rect x="519" y="270" width="1" height="22" fill="#008080"/>
<rect x="518" y="270" width="3" height="18" fill="#008080"/>
<rect x="523" y="256" width="1" height="19" fill="#008080"/>
<rect x="522" y="260" width="3" height="12" fill="#008080"/>
<rect x="527" y="258" width="1" height="10" fill="#DC143C"/>
<rect x="526" y="260" width="3" height="7" fill="#DC143C"/>
<rect x="531" y="254" width="1" height="22" fill="#008080"/>
<rect x="530" y="259" width="3" height="9" fill="#008080"/>
<rect x="535" y="256" width="1" height="18" fill="#DC143C"/>
<rect x="534" y="259" width="3" height="11" fill="#DC143C"/>
<rect x="539" y="253" width="1" height="22" fill="#008080"/>
<rect x="538" y="258" width="3" height="12" fill="#008080"/>
<rect x="543" y="245" width="1" height="20" fill="#008080"/>
<rect x="542" y="253" width="3" height="6" fill="#008080"/>
<rect x="547" y="214" width="1" height="48" fill="#008080"/>
<rect x="546" y="234" width="3" height="21" fill="#008080"/>
<rect x="551" y="230" width="1" height="12" fill="#DC143C"/>
<rect x="550" y="234" width="3" height="5" fill="#DC143C"/>
<rect x="555" y="224" width="1" height="32" fill="#DC143C"/>
<rect x="554" y="239" width="3" height="13" fill="#DC143C"/>
<rect x="559" y="235" width="1" height="24" fill="#DC143C"/>
<rect x="558" y="251" width="3" height="6" fill="#DC143C"/>
<rect x="563" y="244" width="1" height="16" fill="#008080"/>
<rect x="562" y="255" width="3" height="2" fill="#008080"/>
<rect x="567" y="249" width="1" height="17" fill="#DC143C"/>
<rect x="566" y="255" width="3" height="3" fill="#DC143C"/>
<rect x="571" y="257" width="1" height="33" fill="#DC143C"/>
<rect x="570" y="257" width="3" height="23" fill="#DC143C"/>
<rect x="575" y="275" width="1" height="13" fill="#DC143C"/>
<rect x="574" y="279" width="3" height="5" fill="#DC143C"/>
<rect x="579" y="277" width="1" height="16" fill="#DC143C"/>
<rect x="578" y="283" width="3" height="3" fill="#DC143C"/>
<rect x="583" y="270" width="1" height="19" fill="#008080"/>
<rect x="582" y="277" width="3" height="9" fill="#008080"/>
</g>
<g clip-path="url(#c2)">
<line x1="3" y1="388.5" x2="732" y2="388.5" stroke="#606060" stroke-dasharray="3 3" stroke-dashoffset="3"/>
<rect x="2" y="388" width="3" height="21" fill="#008080"/>
<rect x="6" y="388" width="3" height="18" fill="#008080"/>
<rect x="10" y="388" width="3" height="17" fill="#008080"/>
<rect x="14" y="388" width="3" height="17" fill="#008080"/>
<rect x="18" y="388" width="3" height="18" fill="#008080"/>
<rect x="22" y="388" width="3" height="21" fill="#008080"/>
<rect x="26" y="388" width="3" height="21" fill="#008080"/>
<rect x="30" y="388" width="3" height="19" fill="#008080"/>
<rect x="34" y="388" width="3" height="19" fill="#008080"/>
<rect x="38" y="388" width="3" height="19" fill="#008080"/>
<rect x="42" y="388" width="3" height="18" fill="#008080"/>
<rect x="46" y="388" width="3" height="15" fill="#008080"/>
<rect x="50" y="388" width="3" height="16" fill="#008080"/>
<rect x="54" y="388" width="3" height="15" fill="#008080"/>
<rect x="58" y="388" width="3" height="15" fill="#008080"/>
<rect x="62" y="388" width="3" height="16" fill="#008080"/>
<rect x="66" y="388" width="3" height="15" fill="#008080"/>
<rect x="70" y="388" width="3" height="14" fill="#008080"/>
<rect x="74" y="388" width="3" height="13" fill="#008080"/>
<rect x="78" y="388" width="3" height="12" fill="#008080"/>
<rect x="82" y="388" width="3" height="12" fill="#008080"/>
<rect x="86" y="388" width="3" height="10" fill="#008080"/>
<rect x="90" y="388" width="3" height="7" fill="#008080"/>
<rect x="94" y="388" width="3" height="5" fill="#008080"/>
<rect x="98" y="388" width="3" height="3" fill="#008080"/>
<rect x="102" y="388" width="3" height="2" fill="#008080"/>
<rect x="106" y="386" width="3" height="3" fill="#008080"/>
<rect x="110" y="385" width="3" height="4" fill="#008080"/>
<rect x="114" y="384" width="3" height="5" fill="#008080"/>
<rect x="118" y="384" width="3" height="5" fill="#008080"/>
<rect x="122" y="383" width="3" height="6" fill="#008080"/>
<rect x="126" y="382" width="3" height="7" fill="#008080"/>
<rect x="130" y="381" width="3" height="8" fill="#008080"/>
<rect x="134" y="379" width="3" height="10" fill="#008080"/>
<rect x="138" y="376" width="3" height="13" fill="#008080"/>
<rect x="142" y="376" width="3" height="13" fill="#008080"/>
<rect x="146" y="377" width="3" height="12" fill="#008080"/>
<rect x="150" y="378" width="3" height="11" fill="#008080"/>
<rect x="154" y="379" width="3" height="10" fill="#008080"/>
<rect x="158" y="380" width="3" height="9" fill="#008080"/>
<rect x="162" y="380" width="3" height="9" fill="#008080"/>
<rect x="166" y="385" width="3" height="4" fill="#008080"/>
<rect x="170" y="388" width="3" height="4" fill="#008080"/>
<rect x="174" y="388" width="3" height="8" fill="#008080"/>
<rect x="178" y="388" width="3" height="9" fill="#008080"/>
<rect x="182" y="388" width="3" height="6" fill="#008080"/>
<rect x="186" y="388" width="3" height="5" fill="#008080"/>
<rect x="190" y="388" width="3" height="4" fill="#008080"/>
<rect x="194" y="388" width="3" height="4" fill="#008080"/>
<rect x="198" y="388" width="3" height="3" fill="#008080"/>
<rect x="202" y="388" width="3" height="4" fill="#008080"/>
<rect x="206" y="388" width="3" height="4" fill="#008080"/>
<rect x="210" y="388" width="3" height="3" fill="#008080"/>
<rect x="214" y="388" width="3" height="2" fill="#008080"/>
<rect x="218" y="388" width="3" height="2" fill="#008080"/>
<rect x="222" y="388" width="3" height="1" fill="#008080"/>
<rect x="226" y="387" width="3" height="2" fill="#008080"/>
<rect x="230" y="386" width="3" height="3" fill="#008080"/>
<rect x="234" y="388" width="3" height="2" fill="#008080"/>
<rect x="238" y="388" width="3" height="6" fill="#008080"/>
<rect x="242" y="388" width="3" height="9" fill="#008080"/>
<rect x="246" y="388" width="3" height="9" fill="#008080"/>
<rect x="250" y="388" width="3" height="8" fill="#008080"/>
<rect x="254" y="388" width="3" height="8" fill="#008080"/>
<rect x="258" y="388" width="3" height="11" fill="#008080"/>
<rect x="262" y="388" width="3" height="12" fill="#008080"/>
<rect x="266" y="388" width="3" height="11" fill="#008080"/>
<rect x="270" y="388" width="3" height="10" fill="#008080"/>
<rect x="274" y="388" width="3" height="10" fill="#008080"/>
<rect x="278" y="388" width="3" height="10" fill="#008080"/>
<rect x="282" y="388" width="3" height="10" fill="#008080"/>
<rect x="286" y="388" width="3" height="10" fill="#008080"/>
<rect x="290" y="388" width="3" height="9" fill="#008080"/>
<rect x="294" y="388" width="3" height="9" fill="#008080"/>
<rect x="298" y="388" width="3" height="16" fill="#008080"/>
<rect x="302" y="388" width="3" height="19" fill="#008080"/>
<rect x="306" y="388" width="3" height="21" fill="#008080"/>
<rect x="310" y="388" width="3" height="21" fill="#008080"/>
<rect x="314" y="388" width="3" height="21" fill="#008080"/>
<rect x="318" y="388" width="3" height="24" fill="#008080"/>
<rect x="322" y="388" width="3" height="24" fill="#008080"/>
<rect x="326" y="388" width="3" height="24" fill="#008080"/>
<rect x="330" y="388" width="3" height="26" fill="#008080"/>
<rect x="334" y="388" width="3" height="27" fill="#008080"/>
<rect x="338" y="388" width="3" height="29" fill="#008080"/>
<rect x="342" y="388" width="3" height="30" fill="#008080"/>
<rect x="346" y="388" width="3" height="32" fill="#008080"/>
<rect x="350" y="388" width="3" height="31" fill="#008080"/>
<rect x="354" y="388" width="3" height="30" fill="#008080"/>
<rect x="358" y="388" width="3" height="31" fill="#008080"/>
<rect x="362" y="388" width="3" height="31" fill="#008080"/>
<rect x="366" y="388" width="3" height="33" fill="#008080"/>
<rect x="370" y="388" width="3" height="33" fill="#008080"/>
<rect x="374" y="388" width="3" height="32" fill="#008080"/>
<rect x="378" y="388" width="3" height="31" fill="#008080"/>
<rect x="382" y="388" width="3" height="27" fill="#008080"/>
<rect x="386" y="388" width="3" height="26" fill="#008080"/>
<rect x="390" y="388" width="3" height="23" fill="#008080"/>
<rect x="394" y="388" width="3" height="19" fill="#008080"/>
<rect x="398" y="388" width="3" height="17" fill="#008080"/>
<rect x="402" y="388" width="3" height="15" fill="#008080"/>
<rect x="406" y="388" width="3" height="14" fill="#008080"/>
<rect x="410" y="388" width="3" height="12" fill="#008080"/>
<rect x="414" y="388" width="3" height="10" fill="#008080"/>
<rect x="418" y="388" width="3" height="6" fill="#008080"/>
<rect x="422" y="388" width="3" height="3" fill="#008080"/>
<rect x="426" y="388" width="3" height="1" fill="#008080"/>
<rect x="430" y="387" width="3" height="2" fill="#008080"/>
<rect x="434" y="384" width="3" height="5" fill="#008080"/>
<rect x="438" y="381" width="3" height="8" fill="#008080"/>
<rect x="442" y="381" width="3" height="8" fill="#008080"/>
<rect x="446" y="381" width="3" height="8" fill="#008080"/>
<rect x="450" y="381" width="3" height="8" fill="#008080"/>
<rect x="454" y="380" width="3" height="9" fill="#008080"/>
<rect x="458" y="382" width="3" height="7" fill="#008080"/>
<rect x="462" y="382" width="3" height="7" fill="#008080"/>
<rect x="466" y="384" width="3" height="5" fill="#008080"/>
<rect x="470" y="387" width="3" height="2" fill="#008080"/>
<rect x="474" y="388" width="3" height="3" fill="#008080"/>
<rect x="478" y="388" width="3" height="6" fill="#008080"/>
<rect x="482" y="388" width="3" height="6" fill="#008080"/>
<rect x="486" y="388" width="3" height="6" fill="#008080"/>
<rect x="490" y="388" width="3" height="5" fill="#008080"/>
<rect x="494" y="388" width="3" height="6" fill="#008080"/>
<rect x="498" y="388" width="3" height="8" fill="#008080"/>
<rect x="502" y="388" width="3" height="8" fill="#008080"/>
<rect x="506" y="388" width="3" height="6" fill="#008080"/>
<rect x="510" y="388" width="3" height="9" fill="#008080"/>
<rect x="514" y="388" width="3" height="9" fill="#008080"/>
<rect x="518" y="388" width="3" height="7" fill="#008080"/>
<rect x="522" y="388" width="3" height="6" fill="#008080"/>
<rect x="526" y="388" width="3" height="5" fill="#008080"/>
<rect x="530" y="388" width="3" height="4" fill="#008080"/>
<rect x="534" y="388" width="3" height="3" fill="#008080"/>
<rect x="538" y="388" width="3" height="2" fill="#008080"/>
<rect x="542" y="388" width="3" height="1" fill="#008080"/>
<rect x="546" y="386" width="3" height="3" fill="#008080"/>
<rect x="550" y="385" width="3" height="4" fill="#008080"/>
<rect x="554" y="385" width="3" height="4" fill="#008080"/>
<rect x="558" y="386" width="3" height="3" fill="#008080"/>
<rect x="562" y="387" width="3" height="2" fill="#008080"/>
<rect x="566" y="388" width="3" height="1" fill="#008080"/>
<rect x="570" y="388" width="3" height="2" fill="#008080"/>
<rect x="574" y="388" width="3" height="4" fill="#008080"/>
<rect x="578" y="388" width="3" height="6" fill="#008080"/>
<rect x="582" y="388" width="3" height="6" fill="#008080"/>
</g>
<g clip-path="url(#c2)">
<line x1="27.5" y1="2" x2="27.5" y2="473" stroke="#000" stroke-width="1" stroke-dasharray="3 3"/>
<line x1="147.5" y1="2" x2="147.5" y2="473" stroke="#000" stroke-width="1" stroke-dasharray="3 3"/>
<line x1="267.5" y1="2" x2="267.5" y2="473" stroke="#000" stroke-width="1" stroke-dasharray="3 3"/>
<line x1="387.5" y1="2" x2="387.5" y2="473" stroke="#000" stroke-width="1" stroke-dasharray="3 3"/>
<line x1="507.5" y1="2" x2="507.5" y2="473" stroke="#000" stroke-width="1" stroke-dasharray="3 3"/>
<line x1="651.5" y1="2" x2="651.5" y2="473" stroke="#000" stroke-width="1" stroke-dasharray="3 3"/>
<polyline fill="none" stroke="#DC143C" stroke-width="2"  points="3,412.5 7,411.9 11.6,409.3 16,406.7 20.6,405.8 25.8,405.8 27.7,406.7 43.9,406.5 51.6,404.1 60,402.2 74.8,401.5 83.9,399.6 90.3,398.3 95.5,395.9 101,395.1 109,390 115.4,387.4 121.8,385.4 130.8,384.1 137.3,380.9 147.6,377.7 154,376.8 160.5,378 167,379.9 173.4,385.4 179.9,390.6 185,393.8 196,393.8 205,391.2 223,391.2 233.3,387.6 235.9,388.4 243.6,391.9 251.4,394.8 263,396.4 272,398 288,398.2 293,397 298,398.3 307,402.8 314,406.7 321.5,409 330.6,411.6 339.6,413.8 348.6,417 355,417.3 365,418 370.6,419 383.5,419 388,416.8 397,411.2 412.4,401.8 416,401.8 422.7,397 435.6,388.6 442,384.8 451,382 457.5,380.6 467.9,381.5 474.3,384.1 484,389.3 490,392.5 496.5,393.8 506.8,394.5 510.6,395.1 527.4,394.8 535.2,392.5 548,388.6 559.7,385.8 570.6,385.8 575.2,388.4 583,390"/>
</g>
</g>
<g shape-rendering="crispEdges">
<line x1="4" y1="441.5" x2="732" y2="441.5" stroke="#006E00" stroke-dasharray="3 3"/>
<line x1="4" y1="461.5" x2="732" y2="461.5" stroke="#006E00" stroke-dasharray="3 3"/>
</g>
<g clip-path="url(#c3)" shape-rendering="crispEdges">
<polyline fill="none" stroke="#008080" stroke-width="2"  points="3,455.6 3.5,455.6 7.5,456.3 11.5,457.8 15.5,455.6 19.5,459.5 23.5,459.5 27.5,457.3 31.5,456.9 35.5,456.9 39.5,456.9 43.5,454.3 47.5,455 51.5,455.2 55.5,456.9 59.5,457.8 63.5,457.8 67.5,455 71.5,455 75.5,455 79.5,455 83.5,455 87.5,452.4 91.5,447.9 95.5,449.5 99.5,448.8 103.5,447.9 107.5,446.2 111.5,447.9 115.5,448.3 119.5,449.2 123.5,448.9 127.5,447 131.5,444.6 135.5,443.1 139.5,444 143.5,444 147.5,447.2 151.5,447.2 155.5,447.9 159.5,447.9 163.5,447.9 167.5,456.3 171.5,458.2 175.5,456.3 179.5,455.6 183.5,451.7 187.5,451.7 191.5,450.8 195.5,451.1 199.5,453.9 203.5,453.9 207.5,452.4 211.5,450.1 215.5,451.5 219.5,451.5 223.5,448.8 227.5,448.5 231.5,450.5 235.5,455.6 239.5,455.6 243.5,455.6 247.5,453.4 251.5,453 255.5,453 259.5,456.9 263.5,455 267.5,455 271.5,454.7 275.5,453.9 279.5,455 283.5,455 287.5,454.3 291.5,454.5 295.5,457.3 299.5,460.8 303.5,461 307.5,460.8 311.5,459.9 315.5,460.1 319.5,462.1 323.5,460.1 327.5,459.9 331.5,460.8 335.5,461 339.5,462.5 343.5,462.7 347.5,464 351.5,463.7 355.5,461.4 359.5,462.5 363.5,463.7 367.5,464 371.5,462.1 375.5,460.8 379.5,459.9 383.5,458.8 387.5,458.8 391.5,455 395.5,454.1 399.5,453.9 403.5,453.9 407.5,453.9 411.5,451.7 415.5,451.4 419.5,447.9 423.5,447.2 427.5,447 431.5,447 435.5,444 439.5,444 443.5,447 447.5,447 451.5,445.9 455.5,445.9 459.5,449.8 463.5,449.8 467.5,449.8 471.5,453.7 475.5,454.7 479.5,454.7 483.5,454.3 487.5,453 491.5,453 495.5,453.9 499.5,455.6 503.5,453.9 507.5,454.3 511.5,455.6 515.5,455.6 519.5,453 523.5,450.8 527.5,450.8 531.5,450.8 535.5,451.7 539.5,450.5 543.5,449.5 547.5,447.2 551.5,447.2 555.5,449.5 559.5,449.8 563.5,449.8 567.5,451.1 571.5,454.7 575.5,454.7 579.5,454.7 583.5,454.7"/>
</g>
<g shape-rendering="crispEdges">
<rect x="2" y="2" width="731" height="1" fill="#000"/>
<rect x="2" y="2" width="1" height="475" fill="#000"/>
<rect x="732" y="2" width="1" height="475" fill="#000"/>
<rect x="2" y="370" width="731" height="1" fill="#000"/>
<rect x="2" y="372" width="731" height="1" fill="#000"/>
<rect x="2" y="423" width="731" height="1" fill="#000"/>
<rect x="2" y="425" width="731" height="1" fill="#000"/>
<rect x="2" y="476" width="731" height="1" fill="#000"/>
<rect x="2" y="371" width="1" height="1" fill="#fff"/>
<rect x="732" y="371" width="1" height="1" fill="#fff"/>
<rect x="2" y="424" width="1" height="1" fill="#fff"/>
<rect x="732" y="424" width="1" height="1" fill="#fff"/>
<rect x="733" y="4" width="2" height="1" fill="#000"/>
<rect x="733" y="37" width="2" height="1" fill="#000"/>
<rect x="733" y="70" width="2" height="1" fill="#000"/>
<rect x="733" y="103" width="2" height="1" fill="#000"/>
<rect x="733" y="136" width="2" height="1" fill="#000"/>
<rect x="733" y="169" width="2" height="1" fill="#000"/>
<rect x="733" y="202" width="2" height="1" fill="#000"/>
<rect x="733" y="235" width="2" height="1" fill="#000"/>
<rect x="733" y="268" width="2" height="1" fill="#000"/>
<rect x="733" y="301" width="2" height="1" fill="#000"/>
<rect x="733" y="334" width="2" height="1" fill="#000"/>
<rect x="733" y="367" width="2" height="1" fill="#000"/>
<rect x="733" y="374" width="1" height="1" fill="#000"/>
<rect x="733" y="388" width="2" height="1" fill="#000"/>
<rect x="733" y="422" width="1" height="1" fill="#000"/>
<rect x="733" y="427" width="1" height="1" fill="#000"/>
<rect x="733" y="475" width="1" height="1" fill="#000"/>
<rect x="3" y="477" width="1" height="3" fill="#000"/>
<rect x="67" y="477" width="1" height="3" fill="#000"/>
<rect x="131" y="477" width="1" height="3" fill="#000"/>
<rect x="195" y="477" width="1" height="3" fill="#000"/>
<rect x="259" y="477" width="1" height="3" fill="#000"/>
<rect x="323" y="477" width="1" height="3" fill="#000"/>
<rect x="387" y="477" width="1" height="3" fill="#000"/>
<rect x="451" y="477" width="1" height="3" fill="#000"/>
<rect x="515" y="477" width="1" height="3" fill="#000"/>
<rect x="579" y="477" width="1" height="3" fill="#000"/>
<rect x="734" y="272" width="41" height="11" fill="#000"/>
<path d="M6 9h7l-3.5 4z" fill="#000"/>
</g>
<text x="738.3" y="8" fill="#000" stroke="#000" stroke-width="0.25" font-size="10.2" textLength="32.6" lengthAdjust="spacingAndGlyphs">110.720</text>
<text x="738.3" y="41" fill="#000" stroke="#000" stroke-width="0.25" font-size="10.2" textLength="32.6" lengthAdjust="spacingAndGlyphs">110.240</text>
<text x="738.3" y="74" fill="#000" stroke="#000" stroke-width="0.25" font-size="10.2" textLength="32.6" lengthAdjust="spacingAndGlyphs">109.760</text>
<text x="738.3" y="107" fill="#000" stroke="#000" stroke-width="0.25" font-size="10.2" textLength="32.6" lengthAdjust="spacingAndGlyphs">109.280</text>
<text x="738.3" y="140" fill="#000" stroke="#000" stroke-width="0.25" font-size="10.2" textLength="32.6" lengthAdjust="spacingAndGlyphs">108.800</text>
<text x="738.3" y="173" fill="#000" stroke="#000" stroke-width="0.25" font-size="10.2" textLength="32.6" lengthAdjust="spacingAndGlyphs">108.320</text>
<text x="738.3" y="206" fill="#000" stroke="#000" stroke-width="0.25" font-size="10.2" textLength="32.6" lengthAdjust="spacingAndGlyphs">107.840</text>
<text x="738.3" y="239" fill="#000" stroke="#000" stroke-width="0.25" font-size="10.2" textLength="32.6" lengthAdjust="spacingAndGlyphs">107.360</text>
<text x="738.3" y="272" fill="#000" stroke="#000" stroke-width="0.25" font-size="10.2" textLength="32.6" lengthAdjust="spacingAndGlyphs">106.880</text>
<text x="738.3" y="305" fill="#000" stroke="#000" stroke-width="0.25" font-size="10.2" textLength="32.6" lengthAdjust="spacingAndGlyphs">106.400</text>
<text x="738.3" y="338" fill="#000" stroke="#000" stroke-width="0.25" font-size="10.2" textLength="32.6" lengthAdjust="spacingAndGlyphs">105.920</text>
<text x="738.3" y="371" fill="#000" stroke="#000" stroke-width="0.25" font-size="10.2" textLength="32.6" lengthAdjust="spacingAndGlyphs">105.440</text>
<text x="738.3" y="281" fill="#fff" stroke="#fff" stroke-width="0.25" font-size="10.2" textLength="32.6" lengthAdjust="spacingAndGlyphs">106.759</text>
<text x="736.3" y="383" fill="#000" stroke="#000" stroke-width="0.25" font-size="10.2" textLength="27.3" lengthAdjust="spacingAndGlyphs">0.6447</text>
<text x="736.3" y="392" fill="#000" stroke="#000" stroke-width="0.25" font-size="10.2" textLength="17.5" lengthAdjust="spacingAndGlyphs">0.00</text>
<text x="736.6" y="392" fill="#000" stroke="#000" stroke-width="0.25" font-size="10.2" textLength="5.0" lengthAdjust="spacingAndGlyphs">0</text>
<text x="736.3" y="420" fill="#000" stroke="#000" stroke-width="0.25" font-size="10.2" textLength="30.1" lengthAdjust="spacingAndGlyphs">-1.4747</text>
<text x="736.5" y="436" fill="#000" stroke="#000" stroke-width="0.25" font-size="10.2" textLength="14.5" lengthAdjust="spacingAndGlyphs">100</text>
<text x="735" y="445" fill="#000" stroke="#000" stroke-width="0.25" font-size="10.2" textLength="9.8" lengthAdjust="spacingAndGlyphs">70</text>
<text x="735" y="465" fill="#000" stroke="#000" stroke-width="0.25" font-size="10.2" textLength="9.8" lengthAdjust="spacingAndGlyphs">30</text>
<text x="735.5" y="473" fill="#000" stroke="#000" stroke-width="0.25" font-size="10.2" textLength="4.8" lengthAdjust="spacingAndGlyphs">0</text>
<text x="18.5" y="14" fill="#000" stroke="#000" stroke-width="0.25" font-size="10.2" textLength="50.6" lengthAdjust="spacingAndGlyphs">USDJPY,H4</text>
<text x="75.6" y="14" fill="#000" stroke="#000" stroke-width="0.25" font-size="10.2" textLength="32.3" lengthAdjust="spacingAndGlyphs">106.642</text>
<text x="111.53" y="14" fill="#000" stroke="#000" stroke-width="0.25" font-size="10.2" textLength="32.3" lengthAdjust="spacingAndGlyphs">106.863</text>
<text x="147.45999999999998" y="14" fill="#000" stroke="#000" stroke-width="0.25" font-size="10.2" textLength="32.3" lengthAdjust="spacingAndGlyphs">106.592</text>
<text x="183.39" y="14" fill="#000" stroke="#000" stroke-width="0.25" font-size="10.2" textLength="32.3" lengthAdjust="spacingAndGlyphs">106.759</text>
<text x="7.3" y="385" fill="#000" stroke="#000" stroke-width="0.25" font-size="10.2" textLength="60.3" lengthAdjust="spacingAndGlyphs">MACD(5,35,5)</text>
<text x="71.6" y="385" fill="#000" stroke="#000" stroke-width="0.25" font-size="10.2" textLength="28.9" lengthAdjust="spacingAndGlyphs">-0.1867</text>
<text x="105.7" y="385" fill="#000" stroke="#000" stroke-width="0.25" font-size="10.2" textLength="29" lengthAdjust="spacingAndGlyphs">-0.0870</text>
<text x="7.4" y="438" fill="#000" stroke="#000" stroke-width="0.25" font-size="10.2" textLength="31.3" lengthAdjust="spacingAndGlyphs">RSI(14)</text>
<text x="42.1" y="438" fill="#000" stroke="#000" stroke-width="0.25" font-size="10.2" textLength="32.7" lengthAdjust="spacingAndGlyphs">44.7214</text>
<text x="2.8" y="489" fill="#000" stroke="#000" stroke-width="0.25" font-size="10.2" textLength="48.8" lengthAdjust="spacingAndGlyphs">26 Jan 2018</text>
<text x="66.5" y="489" fill="#000" stroke="#000" stroke-width="0.25" font-size="10.2" textLength="52.1" lengthAdjust="spacingAndGlyphs">30 Jan 16:00</text>
<text x="130.4" y="489" fill="#000" stroke="#000" stroke-width="0.25" font-size="10.2" textLength="49.2" lengthAdjust="spacingAndGlyphs">2 Feb 08:00</text>
<text x="194.6" y="489" fill="#000" stroke="#000" stroke-width="0.25" font-size="10.2" textLength="49.5" lengthAdjust="spacingAndGlyphs">7 Feb 00:00</text>
<text x="258.4" y="489" fill="#000" stroke="#000" stroke-width="0.25" font-size="10.2" textLength="50" lengthAdjust="spacingAndGlyphs">9 Feb 16:00</text>
<text x="322.6" y="489" fill="#000" stroke="#000" stroke-width="0.25" font-size="10.2" textLength="54.4" lengthAdjust="spacingAndGlyphs">14 Feb 08:00</text>
<text x="386.8" y="489" fill="#000" stroke="#000" stroke-width="0.25" font-size="10.2" textLength="54" lengthAdjust="spacingAndGlyphs">19 Feb 00:00</text>
<text x="450.4" y="489" fill="#000" stroke="#000" stroke-width="0.25" font-size="10.2" textLength="54.1" lengthAdjust="spacingAndGlyphs">21 Feb 16:00</text>
<text x="514.4" y="489" fill="#000" stroke="#000" stroke-width="0.25" font-size="10.2" textLength="54.6" lengthAdjust="spacingAndGlyphs">26 Feb 08:00</text>
<text x="578.6" y="489" fill="#000" stroke="#000" stroke-width="0.25" font-size="10.2" textLength="49.1" lengthAdjust="spacingAndGlyphs">1 Mar 00:00</text>
</svg>
</body></html>
